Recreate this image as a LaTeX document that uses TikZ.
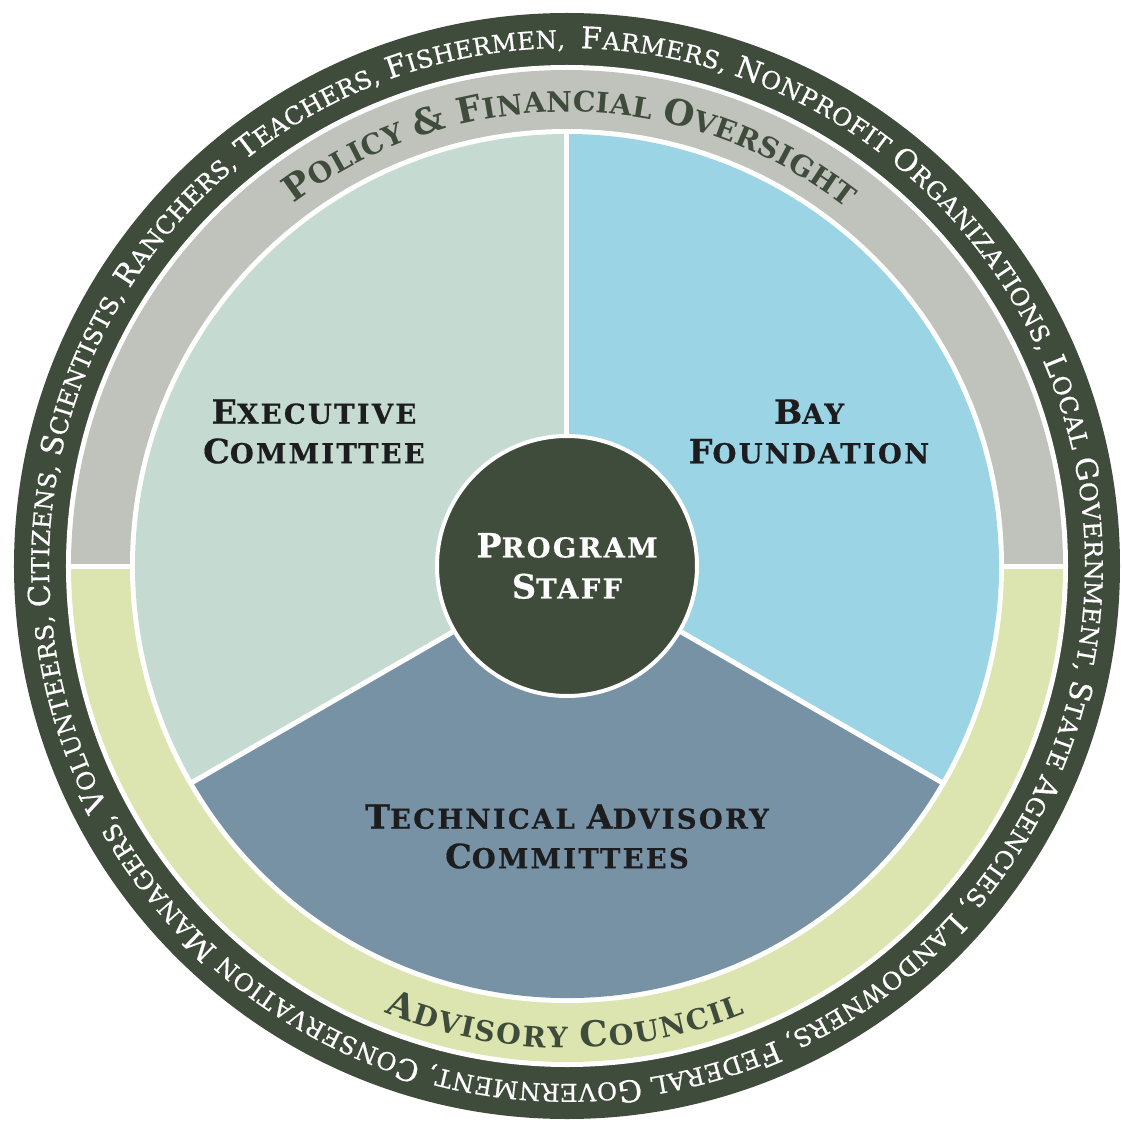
\documentclass[tikz,border=0pt]{standalone}
\usepackage{fontspec}
\setmainfont{DejaVu Serif}
\newfontfamily\labelfont{DejaVu Serif}[LetterSpace=8, FakeBold=0.5]
\newfontfamily\rimfont{DejaVu Serif}[FakeBold=0.6]
\usetikzlibrary{decorations.text}

\definecolor{ringdark}{HTML}{3F4B3B}
\definecolor{bandgray}{HTML}{BFC3BC}
\definecolor{bandlime}{HTML}{DCE4B0}
\definecolor{secsage}{HTML}{C5DBD1}
\definecolor{secblue}{HTML}{9BD4E4}
\definecolor{secsteel}{HTML}{7792A4}
\definecolor{inkdark}{HTML}{1D1D1F}

% fake small caps: large initials, smaller capitals
\newcommand\Lg{\fontsize{33.5}{39.5}\selectfont}
\newcommand\Sm{\fontsize{27.5}{39.5}\selectfont}
\newcommand\rB{\fontsize{35.5}{36}\selectfont\bfseries}
\newcommand\rS{\fontsize{28.3}{36}\selectfont\bfseries}
\newcommand\oB{\rimfont\fontsize{30}{30}\selectfont}
\newcommand\oS{\rimfont\fontsize{24.5}{24.5}\selectfont}

\begin{document}
\begin{tikzpicture}[x=1pt,y=1pt,
  lbl/.style={align=center, text=inkdark, font=\labelfont\bfseries\Lg, inner sep=0pt},
  sep/.style={white, line width=5pt},
  ringtext/.style={decorate, decoration={text along path, text align=fit to path, text color=#1}}]
\useasboundingbox (-561,-561) rectangle (561,561);
\coordinate (C) at (6,-5);

% outer stakeholder ring
\fill[ringdark] (C) circle[radius=553pt];
\fill[white] (C) circle[radius=501pt];

% oversight band (top) and advisory band (bottom)
\fill[bandgray] (C) ++(0:496pt) arc[start angle=0, end angle=180, radius=496pt] -- cycle;
\fill[bandlime] (C) ++(180:496pt) arc[start angle=180, end angle=360, radius=496pt] -- cycle;
\draw[sep] (C) ++(-498pt,0) -- ++(996pt,0);
\fill[white] (C) circle[radius=437pt];

% three sectors
\fill[secsage] (C) -- ++(90:432pt) arc[start angle=90, end angle=210, radius=432pt] -- cycle;
\fill[secblue] (C) -- ++(-30:432pt) arc[start angle=-30, end angle=90, radius=432pt] -- cycle;
\fill[secsteel] (C) -- ++(210:432pt) arc[start angle=210, end angle=330, radius=432pt] -- cycle;
\draw[sep] (C) -- ++(90:434pt);
\draw[sep] (C) -- ++(210:434pt);
\draw[sep] (C) -- ++(330:434pt);

% centre
\node[circle, fill=ringdark, draw=white, line width=4pt, minimum size=260pt,
      inner sep=0pt, text=white, align=center, font=\labelfont\bfseries\fontsize{33.5}{41}\selectfont] (staff) at (C)
      {\Lg P\Sm ROGRAM\\\Lg S\Sm TAFF};

% sector labels
\node[lbl] (exec) at (-247,129.5) {E\Sm XECUTIVE\\\Lg C\Sm OMMITTEE};
\node[lbl] (bay) at (248,129.5) {B\Sm AY\\\Lg F\Sm OUNDATION};
\node[lbl] (tac) at (6,-275.5) {T\Sm ECHNICAL \Lg A\Sm DVISORY\\\Lg C\Sm OMMITTEES};

% band captions
\path[ringtext=ringdark, decoration={text={|\rB|P|\rS|OLICY |\rB|{\&} F|\rS|INANCIAL |\rB|O|\rS|VERSIGHT}}]
  (C) ++(127:454pt) arc[start angle=127, end angle=52, radius=454pt];
\path[ringtext=ringdark, decoration={text={|\rB|A|\rS|DVISORY |\rB|C|\rS|OUNCIL}}]
  (C) ++(247.7:482pt) arc[start angle=247.7, end angle=291.7, radius=482pt];

% stakeholders around the rim
\path[ringtext=white, decoration={text={|\oB|C|\oS|ITIZENS, |\oB|S|\oS|CIENTISTS, |\oB|R|\oS|ANCHERS, |\oB|T|\oS|EACHERS, |\oB|F|\oS|ISHERMEN,}}]
  (C) ++(184.5:518pt) arc[start angle=184.5, end angle=90.2, radius=518pt];
\path[ringtext=white, decoration={text={|\oB|F|\oS|ARMERS, |\oB|N|\oS|ONPROFIT |\oB|O|\oS|RGANIZATIONS, |\oB|L|\oS|OCAL |\oB|G|\oS|OVERNMENT, |\oB|S|\oS|TATE |\oB|A|\oS|GENCIES, |\oB|L|\oS|ANDOWNERS, |\oB|F|\oS|EDERAL |\oB|G|\oS|OVERNMENT, |\oB|C|\oS|ONSERVATION |\oB|M|\oS|ANAGERS, |\oB|V|\oS|OLUNTEERS,}}]
  (C) ++(88.5:518pt) arc[start angle=88.5, end angle=-174.5, radius=518pt];
\end{tikzpicture}
\end{document}
